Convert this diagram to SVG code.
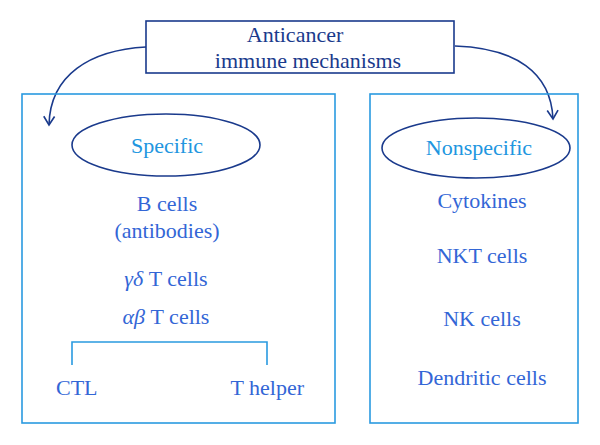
<svg xmlns="http://www.w3.org/2000/svg" width="600" height="445" viewBox="0 0 600 445">
<defs>
<style>
text{font-family:'Liberation Serif','DejaVu Serif',serif;font-size:22px;text-anchor:middle}
text.s{text-anchor:start}
text.e{text-anchor:end}
.t{fill:#1a3a8c}
.b{fill:#3366d6}
.c{fill:#2196e0}
.box{fill:none;stroke:#2a9ae0;stroke-width:1.6}
.ell{fill:none;stroke:#1a3a8c;stroke-width:1.6}
.con{fill:none;stroke:#1a3a8c;stroke-width:1.6}
.br{fill:none;stroke:#2a9ae0;stroke-width:1.6}
</style>
<marker id="ah" viewBox="0 0 12 12" refX="10" refY="6" markerWidth="13" markerHeight="13" markerUnits="userSpaceOnUse" orient="auto">
<path d="M2,1 L10,6 L2,11" fill="none" stroke="#1a3a8c" stroke-width="1.5"/>
</marker>
</defs>
<rect width="600" height="445" fill="#fff"/>
<g id="top">
<rect x="146" y="21" width="308" height="52" fill="#fff" stroke="#1a3a8c" stroke-width="1.6"/>
<text class="t" x="295" y="42">Anticancer</text>
<text class="t" x="308" y="68">immune mechanisms</text>
</g>
<g id="connectors">
<path class="con" d="M146,47 C90,50 50,75 49,125" marker-end="url(#ah)"/>
<path class="con" d="M455,46 C515,48 551,72 553,119" marker-end="url(#ah)"/>
</g>
<g id="specific-box">
<rect class="box" x="22" y="94" width="313" height="329"/>
<ellipse class="ell" cx="166" cy="145" rx="94" ry="31"/>
<text class="c" x="167" y="153">Specific</text>
<text class="b" x="167" y="211">B cells</text>
<text class="b" x="167" y="238">(antibodies)</text>
<text class="b" x="166" y="286"><tspan font-style="italic">γδ</tspan> T cells</text>
<text class="b" x="166" y="324"><tspan font-style="italic">αβ</tspan> T cells</text>
<path class="br" d="M72,365 V342 H267 V365"/>
<text class="b s" x="56" y="395">CTL</text>
<text class="b e" x="304" y="395">T helper</text>
</g>
<g id="nonspecific-box">
<rect class="box" x="370" y="94" width="208" height="329"/>
<ellipse class="ell" cx="476" cy="148" rx="94" ry="30"/>
<text class="c" x="479" y="155">Nonspecific</text>
<text class="b" x="482" y="208">Cytokines</text>
<text class="b" x="482" y="263">NKT cells</text>
<text class="b" x="482" y="326">NK cells</text>
<text class="b" x="482" y="385">Dendritic cells</text>
</g>
</svg>
